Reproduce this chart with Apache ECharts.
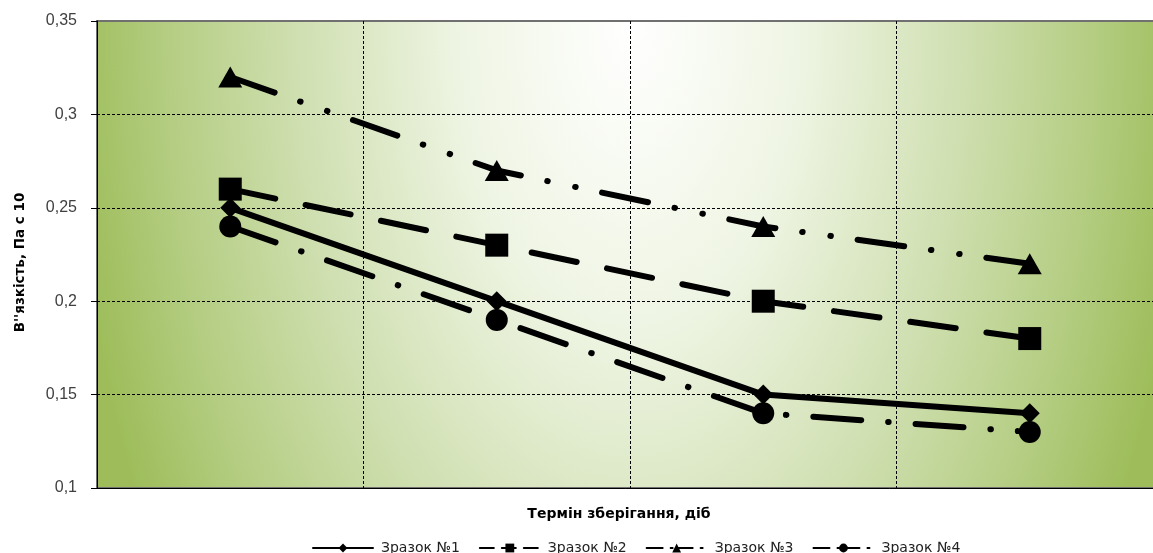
<!DOCTYPE html>
<html>
<head>
<meta charset="utf-8">
<script src="https://cdn.jsdelivr.net/npm/echarts@6/dist/echarts.min.js"></script>
<style>
  html, body { margin: 0; padding: 0; background: #ffffff; }
  #chart { width: 1153px; height: 553px; }
</style>
</head>
<body>
<div id="chart"></div>
<script>
// Storage periods (category axis, labels hidden)
const categories = ['1', '2', '3', '4'];

// Viscosity values for each sample
const sample1 = [0.25, 0.20, 0.15, 0.14];
const sample2 = [0.26, 0.23, 0.20, 0.18];
const sample3 = [0.32, 0.27, 0.24, 0.22];
const sample4 = [0.24, 0.19, 0.14, 0.13];

const seriesNames = ['Зразок №1', 'Зразок №2', 'Зразок №3', 'Зразок №4'];

// Value axis range
const yMin = 0.1, yMax = 0.35, yStep = 0.05;

const FONT = '"Liberation Sans", Arial, sans-serif';
const WIDE = '"DejaVu Sans", Verdana, sans-serif';

// Plot area in pixels (extends a little past the right edge of the canvas)
const plot = { left: 97, top: 21, width: 1066, height: 467 };
// Elliptical glow: horizontal / vertical radii of the gradient
const rx = 560, ry = 1000;
const sy = ry / rx;
const localH = plot.height / sy;

const chart = echarts.init(document.getElementById('chart'), null, { renderer: 'canvas' });

function lineSeries(name, data, symbol, size, dash) {
  return {
    name: name,
    type: 'line',
    data: data,
    symbol: symbol,
    symbolSize: size,
    showSymbol: true,
    animation: false,
    itemStyle: { color: '#000000' },
    lineStyle: { color: '#000000', width: 6, type: dash, cap: 'round', join: 'round' },
    emphasis: { disabled: true }
  };
}

const option = {
  animation: false,
  backgroundColor: '#ffffff',
  textStyle: { fontFamily: FONT },
  graphic: [{
    type: 'rect',
    x: plot.left,
    y: plot.top,
    scaleY: sy,
    z: -10,
    silent: true,
    shape: { x: 0, y: 0, width: plot.width, height: localH },
    style: {
      fill: {
        type: 'radial',
        x: 0.5, y: 0,
        r: rx / Math.min(plot.width, localH),
        colorStops: [
          { offset: 0, color: '#ffffff' },
          { offset: 0.3, color: '#eff5e4' },
          { offset: 0.6, color: '#cfdfb0' },
          { offset: 0.85, color: '#b1cb7d' },
          { offset: 1, color: '#9ebd5a' }
        ]
      }
    }
  }],
  grid: {
    left: plot.left,
    top: plot.top,
    width: plot.width,
    height: plot.height,
    outerBoundsMode: 'none',
    containLabel: false,
    show: true,
    backgroundColor: 'transparent',
    borderColor: '#707070',
    borderWidth: 2
  },
  legend: {
    left: 307,
    top: 536,
    itemWidth: 60,
    itemHeight: 11,
    itemGap: 19,
    textStyle: { fontFamily: WIDE, fontSize: 14, color: '#222222', padding: [0, 0, 0, 3] },
    lineStyle: { width: 2 },
    data: [
      { name: seriesNames[0], lineStyle: { type: 'solid', width: 2 } },
      { name: seriesNames[1], lineStyle: { type: [14, 8], width: 2 } },
      { name: seriesNames[2], lineStyle: { type: [16, 8, 2, 4], width: 2 } },
      { name: seriesNames[3], lineStyle: { type: [16, 8, 2, 4], width: 2 } }
    ]
  },
  xAxis: {
    type: 'category',
    data: categories,
    boundaryGap: true,
    name: 'Термін зберігання, діб',
    nameLocation: 'middle',
    nameGap: 19,
    nameTextStyle: { fontFamily: WIDE, fontSize: 14, fontWeight: 'bold', color: '#000000', padding: [0, 22, 0, 0], verticalAlign: 'top' },
    axisLine: { show: true, lineStyle: { color: '#000000', width: 1 } },
    axisTick: { show: false },
    axisLabel: { show: false },
    splitLine: { show: true, interval: 0, lineStyle: { color: '#000000', width: 1, type: [3, 2] } }
  },
  yAxis: {
    type: 'value',
    min: yMin,
    max: yMax,
    interval: yStep,
    name: "В''язкість, Па с 10",
    nameLocation: 'middle',
    nameGap: 70,
    nameRotate: 90,
    nameTextStyle: { fontFamily: WIDE, fontSize: 13.5, fontWeight: 'bold', color: '#000000', padding: [0, 16, 0, 0] },
    axisLine: { show: true, lineStyle: { color: '#000000', width: 1 } },
    axisTick: { show: true, inside: false, length: 6, lineStyle: { color: '#000000' } },
    axisLabel: {
      fontFamily: FONT, fontSize: 16, color: '#404040', margin: 20,
      formatter: function (v) { return String(+v.toFixed(2)).replace('.', ','); }
    },
    splitLine: {
      show: true,
      lineStyle: {
        color: ['rgba(0,0,0,0)', '#000000', '#000000', '#000000', '#000000', 'rgba(0,0,0,0)'],
        width: 1, type: [3, 2]
      }
    }
  },
  series: [
    lineSeries(seriesNames[0], sample1, 'diamond', 20, 'solid'),
    lineSeries(seriesNames[1], sample2, 'rect', 23, [46, 31]),
    lineSeries(seriesNames[2], sample3, 'triangle', [24, 21], [47, 27, 0.5, 28, 0.5, 27]),
    lineSeries(seriesNames[3], sample4, 'circle', 22, [48, 27, 0.5, 27])
  ]
};

chart.setOption(option);
</script>
</body>
</html>
